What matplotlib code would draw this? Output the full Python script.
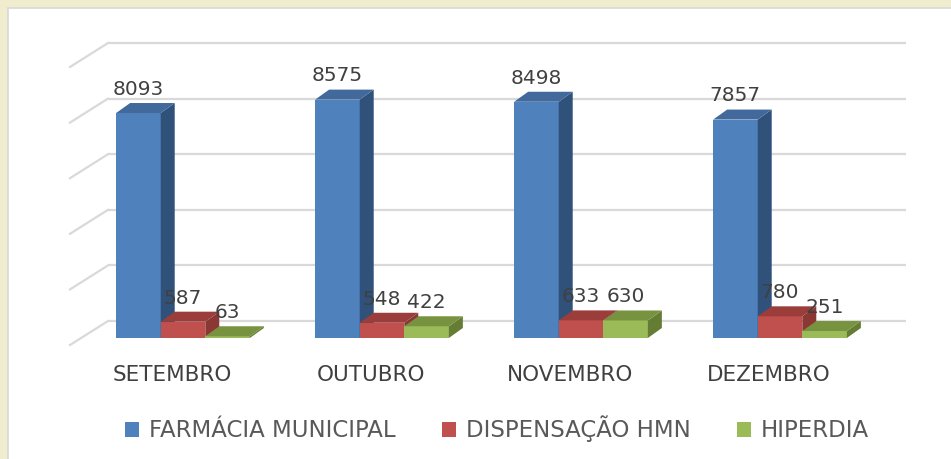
import matplotlib
matplotlib.use("Agg")
import matplotlib.pyplot as plt
from matplotlib.patches import Polygon, Rectangle, Patch

plt.rcParams['font.family'] = ['DejaVu Sans']

# dados
meses = ['SETEMBRO', 'OUTUBRO', 'NOVEMBRO', 'DEZEMBRO']
farmacia = [8093, 8575, 8498, 7857]
dispensacao = [587, 548, 633, 780]
hiperdia = [63, 422, 630, 251]
series_nomes = ['FARMÁCIA MUNICIPAL', 'DISPENSAÇÃO HMN', 'HIPERDIA']
grade = [0, 2000, 4000, 6000, 8000, 10000]

# cores (frente, topo, lateral)
cores = [
    ('#4F81BD', '#41699B', '#30517A'),
    ('#C0504D', '#9B3D3A', '#8B3734'),
    ('#9BBB59', '#78933F', '#657C35'),
]

W, H = 951, 459
fig = plt.figure(figsize=(W / 100, H / 100), dpi=100, facecolor='#F0ECCE')
# area branca do grafico
fig.patches.append(Rectangle((8 / W, -0.1), 1.2, 1 - 8 / H + 0.1, transform=fig.transFigure,
                             facecolor='white', edgecolor='#D8D8D8', lw=1.2, zorder=-5))

ax = fig.add_axes([0, 0, 1, 1])
ax.set_facecolor('none')
# eixos em unidades de categoria / valor
px_cat, px_val, x0_px, y0_px = 199.0, 0.0278, 183.0, 338.0
ax.set_xlim(-x0_px / px_cat, (W - x0_px) / px_cat)
ax.set_ylim((y0_px - H) / px_val, y0_px / px_val)
ax.axis('off')

w = 0.224          # largura da barra
dx, dy = 14 / px_cat, 10 / px_val      # profundidade da barra
wdx, wdy = 27 / px_cat, 17 / px_val    # parede do fundo
wall_l, wall_r = (108 - x0_px) / px_cat, (906 - x0_px) / px_cat
diag_x, diag_y = 38 / px_cat, 24 / px_val

for g in grade:
    yy = g + wdy
    ax.plot([wall_l, wall_r], [yy, yy], color='#D9D9D9', lw=1.6, zorder=1, solid_capstyle='butt')
    ax.plot([wall_l, wall_l - diag_x], [yy, yy - diag_y], color='#D9D9D9', lw=1.6, zorder=1)

dados = [farmacia, dispensacao, hiperdia]
z = 2
for i in range(len(meses)):
    for s, vals in enumerate(dados):
        h = vals[i]
        xc = i + (s - 1) * w
        xl = xc - w / 2
        fr, tp, sd = cores[s]
        ax.bar(xc, h, width=w, color=fr, zorder=z, lw=0)
        ax.add_patch(Polygon([(xl + w, 0), (xl + w + dx, dy), (xl + w + dx, h + dy), (xl + w, h)],
                             closed=True, facecolor=sd, lw=0, zorder=z))
        ax.add_patch(Polygon([(xl, h), (xl + w, h), (xl + w + dx, h + dy), (xl + dx, h + dy)],
                             closed=True, facecolor=tp, lw=0, zorder=z))
        ax.annotate(str(h), (xc, h + dy), xytext=(0, 3), textcoords='offset points',
                    ha='center', va='bottom', fontsize=14.5, color='#404040', zorder=20)
        z += 1

for i, m in enumerate(meses):
    ax.text(i - 0.055, (y0_px - 375) / px_val, m, ha='center', va='center',
            fontsize=15.5, color='#404040')

handles = [Patch(facecolor=c[0], edgecolor='none') for c in cores]
fig.legend(handles, series_nomes, loc='center', bbox_to_anchor=(497 / W, 1 - 429 / H),
           ncol=3, frameon=False, fontsize=16.5, labelcolor='#595959',
           handlelength=0.62, handleheight=0.62, handletextpad=0.45, columnspacing=2.0)

fig.savefig('out.png', dpi=100, facecolor=fig.get_facecolor())
